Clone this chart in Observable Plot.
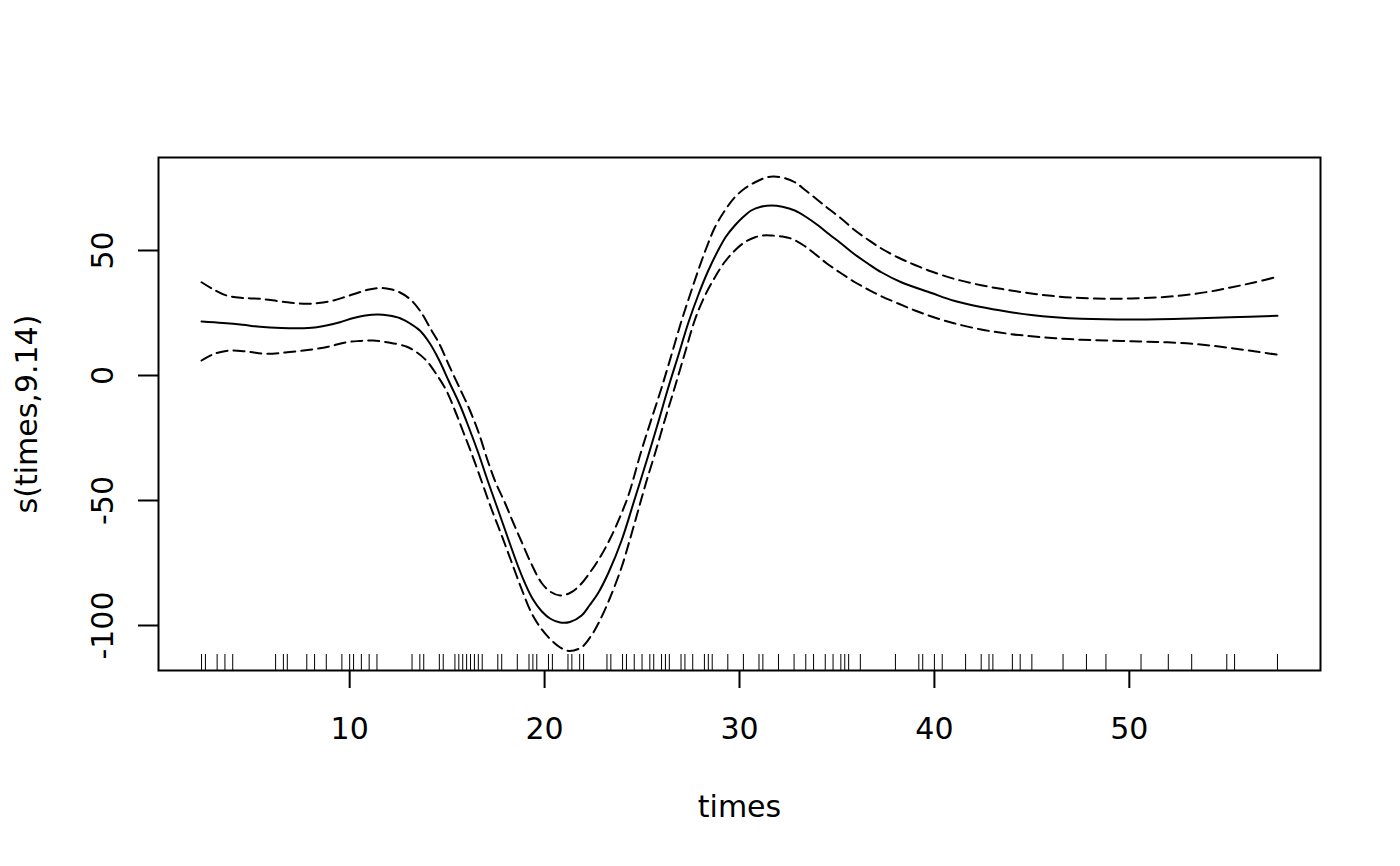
<!DOCTYPE html>
<html>
<head>
<meta charset="utf-8">
<script src="https://cdn.jsdelivr.net/npm/d3@7"></script>
<script src="https://cdn.jsdelivr.net/npm/@observablehq/plot@0.6"></script>
<style>
  html, body { margin: 0; padding: 0; background: white; }
</style>
</head>
<body>
<div id="chart"></div>
<script>
// Estimated smooth s(times, 9.14) and its ±2 SE band, as [times, value]
const fitCurve = [
  [2.4,21.6],[3.5,21.0],[4.5,20.3],[5.4,19.5],[6.5,19.0],[7.4,18.9],[8.2,19.2],[8.8,20.0],
  [9.5,21.3],[10.2,23.0],[10.8,24.0],[11.45,24.4],[12.0,24.0],[12.56,23.0],[13.1,20.8],
  [13.6,18.0],[14.1,13.0],[14.6,6.0],[15.1,-2.5],[15.64,-11.5],[16.1,-20.5],[16.6,-31.0],
  [17.1,-42.5],[17.6,-53.5],[18.14,-65.5],[18.6,-75.5],[18.99,-83.0],[19.4,-89.5],
  [19.85,-94.3],[20.3,-97.3],[20.8,-98.8],[21.3,-98.6],[21.9,-96.0],[22.3,-92.0],
  [22.75,-87.0],[23.3,-78.5],[23.95,-66.0],[24.6,-50.0],[25.3,-32.5],[25.8,-19.5],
  [26.34,-5.0],[26.9,9.0],[27.37,21.0],[27.9,32.5],[28.4,42.0],[28.9,50.0],[29.3,55.5],
  [29.76,60.0],[30.2,63.5],[30.6,66.0],[31.1,67.5],[31.64,68.0],[32.2,67.5],[32.84,66.0],
  [33.4,63.5],[34.04,60.0],[34.6,56.5],[35.23,52.7],[35.9,48.5],[36.6,44.7],[37.3,41.2],
  [38.3,37.3],[39.85,33.0],[41.0,29.9],[42.4,27.4],[43.7,25.6],[44.97,24.2],[46.2,23.3],
  [47.54,22.7],[50.1,22.4],[52.67,22.7],[55.2,23.3],[57.6,23.9]
];
const upperCurve = [
  [2.4,37.3],[3.0,34.5],[3.68,32.0],[4.5,31.0],[5.38,30.7],[6.5,29.6],[7.6,28.7],[8.4,29.0],
  [9.15,30.0],[9.8,31.5],[10.5,33.3],[11.0,34.4],[11.54,35.0],[12.1,34.5],[12.56,33.3],
  [13.1,30.5],[13.6,26.0],[14.2,18.0],[14.6,12.7],[15.1,4.0],[15.64,-5.0],[16.1,-12.7],
  [16.6,-22.5],[17.1,-34.5],[17.5,-43.0],[17.97,-51.0],[18.4,-59.0],[18.82,-66.5],
  [19.3,-75.0],[19.85,-83.0],[20.3,-86.5],[20.8,-88.0],[21.3,-87.0],[21.8,-84.0],
  [22.4,-78.0],[22.9,-72.0],[23.4,-64.7],[23.9,-56.0],[24.3,-48.0],[24.97,-30.0],
  [25.5,-17.0],[26.0,-5.0],[26.5,8.0],[27.03,22.0],[27.45,32.0],[27.88,42.0],[28.3,51.0],
  [28.74,59.3],[29.25,66.0],[29.76,71.3],[30.3,75.0],[30.8,77.3],[31.3,79.0],[31.73,79.6],
  [32.3,79.0],[32.84,77.3],[33.4,74.0],[34.04,70.0],[34.6,66.5],[35.23,62.7],[35.9,58.2],
  [36.6,54.3],[37.28,50.8],[38.14,47.2],[39.0,44.2],[39.85,41.6],[41.0,38.7],[42.4,36.1],
  [43.7,34.3],[44.97,32.8],[46.2,31.7],[47.54,31.0],[48.8,30.7],[50.1,30.8],[51.4,31.2],
  [52.67,32.0],[54.0,33.4],[55.2,35.2],[56.4,37.2],[57.6,39.5]
];
const lowerCurve = [
  [2.4,6.0],[3.0,8.5],[3.85,10.0],[4.8,9.5],[5.73,8.7],[6.8,9.3],[7.95,10.3],[8.9,11.5],
  [9.83,13.3],[10.5,13.8],[11.2,14.0],[12.0,13.2],[12.9,11.6],[13.4,9.5],[13.93,6.0],
  [14.45,0.5],[14.96,-6.0],[15.4,-14.0],[15.8,-22.0],[16.26,-31.3],[16.8,-43.0],
  [17.28,-53.5],[17.8,-64.0],[18.3,-74.5],[18.8,-85.0],[19.33,-95.0],[19.85,-101.5],
  [20.36,-106.0],[20.8,-108.8],[21.25,-110.2],[21.9,-108.7],[22.4,-104.0],[22.75,-99.3],
  [23.3,-90.0],[23.95,-76.7],[24.4,-65.0],[24.8,-54.0],[25.2,-43.0],[25.66,-31.3],
  [26.2,-17.0],[26.68,-4.7],[27.2,9.0],[27.7,22.0],[28.2,31.5],[28.74,39.3],[29.25,45.5],
  [29.76,50.0],[30.3,53.5],[30.8,55.3],[31.2,56.0],[31.64,56.0],[32.2,55.6],[32.67,54.7],
  [33.3,52.0],[33.86,48.7],[34.5,44.7],[35.23,40.8],[35.9,37.4],[36.6,34.4],[37.28,31.7],
  [38.14,28.8],[39.0,26.0],[39.85,23.6],[41.0,20.9],[42.4,18.4],[43.7,16.8],[44.97,15.7],
  [46.2,14.9],[47.54,14.3],[48.8,14.0],[50.1,13.7],[51.4,13.4],[52.67,13.0],[54.0,12.1],
  [55.2,11.0],[56.4,9.7],[57.6,8.3]
];
// Observed times (rug)
const rugTimes = [
  2.4,2.6,3.2,3.6,4.0,6.2,6.6,6.8,7.8,8.2,8.8,9.6,10.0,10.2,10.6,11.0,11.4,13.2,13.6,13.8,
  14.6,14.8,15.4,15.6,15.8,16.0,16.2,16.4,16.6,16.8,17.6,17.8,18.6,19.2,19.4,19.6,20.2,20.4,
  21.2,21.4,21.8,22.0,23.2,23.4,24.0,24.2,24.6,25.0,25.4,25.6,26.0,26.2,26.4,27.0,27.2,27.6,
  28.2,28.4,28.6,29.4,30.2,31.0,31.2,32.0,32.8,33.4,33.8,34.4,34.8,35.2,35.4,35.6,36.2,38.0,
  39.2,39.4,40.0,40.4,41.6,42.4,42.8,43.0,44.0,44.4,45.0,46.6,47.8,48.8,50.6,52.0,53.2,55.0,
  55.4,57.6
];
const xTicks = [10, 20, 30, 40, 50];
const yTicks = [-100, -50, 0, 50];
const xDomain = [0.192, 59.808];
const yDomain = [-118, 87.2];
const xLabel = "times";
const yLabel = "s(times,9.14)";

const FONT = 30;
const LW = 2;

const chart = Plot.plot({
  width: 1400,
  height: 866,
  marginTop: 157,
  marginBottom: 196,
  marginLeft: 158,
  marginRight: 80,
  x: { domain: xDomain },
  y: { domain: yDomain },
  style: { fontFamily: "DejaVu Sans", fontSize: "30px", background: "white", color: "black" },
  marks: [
    Plot.ruleX(rugTimes, { x: d => d, insetTop: 497, stroke: "black", strokeWidth: 1 }),
    Plot.line(lowerCurve, { curve: "catmull-rom", stroke: "black", strokeWidth: LW, strokeDasharray: "11,6" }),
    Plot.line(upperCurve, { curve: "catmull-rom", stroke: "black", strokeWidth: LW, strokeDasharray: "11,6" }),
    Plot.line(fitCurve, { curve: "catmull-rom", stroke: "black", strokeWidth: LW }),
    Plot.frame({ stroke: "black", strokeWidth: LW }),
    Plot.axisX(xTicks, { tickSize: 18, tickPadding: 29, fontSize: FONT, strokeWidth: LW, tickFormat: d => String(d) }),
    Plot.axisY(yTicks, { tickSize: 20, strokeWidth: LW, tickFormat: () => "" }),
    Plot.text(yTicks, { y: d => d, text: d => String(d), frameAnchor: "left", dx: -46, rotate: -90,
      textAnchor: "middle", lineAnchor: "bottom", fontSize: FONT }),
    Plot.text([xLabel], { text: d => d, frameAnchor: "bottom", dy: 146, lineAnchor: "bottom", fontSize: FONT }),
    Plot.text([yLabel], { text: d => d, frameAnchor: "left", dx: -122, rotate: -90,
      textAnchor: "middle", lineAnchor: "bottom", fontSize: FONT })
  ]
});
document.getElementById("chart").appendChild(chart);
</script>
</body>
</html>
